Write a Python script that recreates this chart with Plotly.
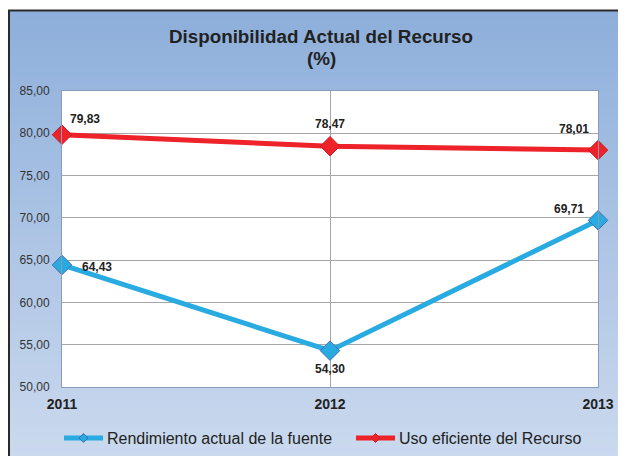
import plotly.graph_objects as go

years = ["2011", "2012", "2013"]
rendimiento = [64.43, 54.30, 69.71]
uso_eficiente = [79.83, 78.47, 78.01]
y_ticks = [50, 55, 60, 65, 70, 75, 80, 85]
series_names = ["Rendimiento actual de la fuente", "Uso eficiente del Recurso"]
series_colors = ["#29ABE2", "#EE2229"]
marker_edges = ["#3F6DB3", "#C81E25"]

# page has 8px body margin: figure coords = screen px - 8
W, H = 626, 448
OFF = 8
L, R, T, B = 54, 36, 83, 69
pw, ph = W - L - R, H - T - B

def px_x(p):
    return (p - OFF - L) / pw

def px_y(p):
    return (H - B - (p - OFF)) / ph

def fmt(v):
    return f"{v:.2f}".replace(".", ",")

FONT = "Liberation Sans, Arial, sans-serif"
fig = go.Figure()

for vals, name, col, edge in zip([rendimiento, uso_eficiente], series_names, series_colors, marker_edges):
    fig.add_trace(go.Scatter(
        x=years, y=vals, mode="lines+markers", name=name, showlegend=False,
        line=dict(color=col, width=5),
        marker=dict(symbol="diamond", size=15, color=col, line=dict(color=edge, width=1)),
        cliponaxis=False,
    ))

# value labels (offsets in px from each point)
shifts_r = [(23, 16), (0, 22), (-24, 21)]
shifts_b = [(35, -2), (0, -18), (-29, 11)]
lab_font = dict(size=12, color="#222222", family=FONT, weight="bold")
ann = []
for i in range(len(years)):
    ann.append(dict(x=i, y=uso_eficiente[i], xref="x", yref="y", text=fmt(uso_eficiente[i]),
                    showarrow=False, xshift=shifts_r[i][0], yshift=shifts_r[i][1], font=lab_font))
    ann.append(dict(x=i, y=rendimiento[i], xref="x", yref="y", text=fmt(rendimiento[i]),
                    showarrow=False, xshift=shifts_b[i][0], yshift=shifts_b[i][1], font=lab_font))

# title (two lines, tight spacing)
title_font = dict(size=18.8, color="#222222", family=FONT, weight="bold")
ann.append(dict(x=px_x(321), y=px_y(37), xref="paper", yref="paper", showarrow=False,
                text="Disponibilidad Actual del Recurso", xanchor="center", yanchor="middle",
                font=title_font))
ann.append(dict(x=px_x(321), y=px_y(58), xref="paper", yref="paper", showarrow=False,
                text="(%)", xanchor="center", yanchor="middle", font=title_font))

# background gradient
shapes = []
top_c = (142, 175, 219)
bot_c = (202, 217, 238)
y0p, y1p = 10, 460
n = 60
for k in range(n):
    a = y0p + (y1p - y0p) * k / n
    b = y0p + (y1p - y0p) * (k + 1) / n
    t = k / (n - 1)
    c = tuple(int(round(top_c[j] + (bot_c[j] - top_c[j]) * t)) for j in range(3))
    shapes.append(dict(type="rect", xref="paper", yref="paper", layer="below",
                       x0=px_x(8), x1=px_x(640), y0=px_y(b + 1), y1=px_y(a),
                       fillcolor=f"rgb{c}", line=dict(width=0)))
# plot area white
shapes.append(dict(type="rect", xref="paper", yref="paper", layer="below",
                   x0=0, x1=1, y0=0, y1=1, fillcolor="white", line=dict(width=0)))
# dark frame (top and left)
shapes.append(dict(type="line", xref="paper", yref="paper",
                   x0=px_x(8), x1=px_x(640), y0=px_y(10.5), y1=px_y(10.5),
                   line=dict(color="#2a2a2a", width=2)))
shapes.append(dict(type="line", xref="paper", yref="paper",
                   x0=px_x(9), x1=px_x(9), y0=px_y(10), y1=px_y(460),
                   line=dict(color="#2a2a2a", width=2)))

# legend (drawn as key lines + diamonds + text)
leg_y = 438
leg_items = [(64, 103, 105), (356, 395, 397)]
dx, dy = 4.5, 4.5
for (x0, x1, tx), name, col, edge in zip(leg_items, series_names, series_colors, marker_edges):
    shapes.append(dict(type="line", xref="paper", yref="paper",
                       x0=px_x(x0), x1=px_x(x1), y0=px_y(leg_y), y1=px_y(leg_y),
                       line=dict(color=col, width=5)))
    cx = (x0 + x1) / 2
    path = (f"M{px_x(cx)},{px_y(leg_y - dy)} L{px_x(cx + dx)},{px_y(leg_y)} "
            f"L{px_x(cx)},{px_y(leg_y + dy)} L{px_x(cx - dx)},{px_y(leg_y)} Z")
    shapes.append(dict(type="path", xref="paper", yref="paper", path=path,
                       fillcolor=col, line=dict(color=edge, width=1)))
    ann.append(dict(x=px_x(tx), y=px_y(leg_y), xref="paper", yref="paper", showarrow=False,
                    text=name, xanchor="left", yanchor="middle",
                    font=dict(size=16, color="#222222", family=FONT)))

fig.update_layout(
    width=W, height=H,
    margin=dict(l=L, r=R, t=T, b=B),
    paper_bgcolor="white",
    plot_bgcolor="rgba(0,0,0,0)",
    separators=",.",
    font=dict(family=FONT, color="#222222"),
    shapes=shapes,
    annotations=ann,
    showlegend=False,
    xaxis=dict(type="category", range=[0, 2], showgrid=True, gridcolor="#A6A6A6", gridwidth=1,
               showline=True, linecolor="#8A9AB8", linewidth=1, mirror=True,
               tickfont=dict(size=14, color="#222222", weight="bold"),
               ticks="outside", ticklen=4, tickcolor="rgba(0,0,0,0)", zeroline=False,
               automargin=False),
    yaxis=dict(range=[50, 85], tickvals=y_ticks, tickformat=".2f", showgrid=True,
               gridcolor="#A6A6A6", gridwidth=1,
               showline=True, linecolor="#8A9AB8", linewidth=1, mirror=True,
               tickfont=dict(size=12, color="#333333"),
               ticks="outside", ticklen=9, tickcolor="rgba(0,0,0,0)", zeroline=False,
               automargin=False),
)

fig.write_html("out.html")
